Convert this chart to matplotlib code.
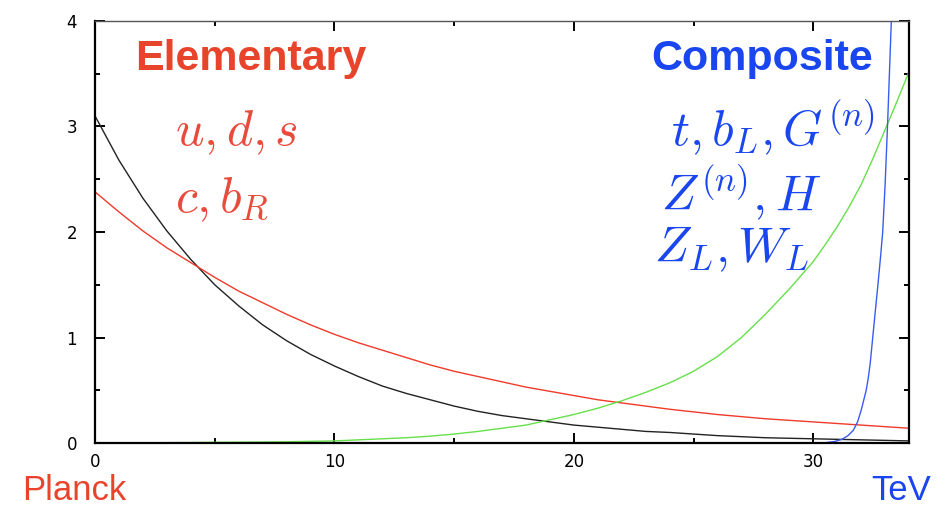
import matplotlib
matplotlib.use('Agg')
import matplotlib.pyplot as plt
from matplotlib.ticker import MultipleLocator

plt.rcParams['mathtext.fontset'] = 'cm'
plt.rcParams['font.family'] = ['Liberation Sans', 'DejaVu Sans']

# curves
x_black = [0, 1, 2, 3, 4, 5, 6, 7, 8, 9, 10, 11, 12, 13, 14, 15, 16, 17, 18, 19, 20, 21, 22,
           23, 24, 25, 26, 27, 28, 29, 30, 31, 32, 33, 34]
y_black = [3.10, 2.68, 2.32, 2.01, 1.74, 1.50, 1.30, 1.12, 0.97, 0.84, 0.73, 0.63, 0.54, 0.47,
           0.41, 0.35, 0.30, 0.26, 0.23, 0.20, 0.17, 0.15, 0.13, 0.11, 0.10, 0.085, 0.07,
           0.06, 0.05, 0.045, 0.04, 0.035, 0.03, 0.025, 0.02]

x_red = [0, 1, 2, 3, 4, 5, 6, 7, 8, 9, 10, 11, 12, 13, 14, 15, 16, 17, 18, 19, 20, 21, 22,
         23, 24, 25, 26, 27, 28, 29, 30, 31, 32, 33, 34]
y_red = [2.38, 2.19, 2.01, 1.85, 1.71, 1.57, 1.44, 1.33, 1.22, 1.12, 1.03, 0.95, 0.88, 0.81,
         0.74, 0.68, 0.63, 0.58, 0.53, 0.49, 0.45, 0.41, 0.38, 0.35, 0.32, 0.295, 0.27,
         0.25, 0.23, 0.215, 0.20, 0.185, 0.17, 0.155, 0.14]

x_green = [0, 2, 4, 6, 8, 10, 11, 12, 13, 14, 15, 16, 17, 18, 19, 20, 21, 22, 23, 24, 25, 26,
           27, 28, 28.5, 29, 29.5, 30, 30.5, 31, 31.5, 32, 32.5, 33, 33.5, 34]
y_green = [0.0, 0.002, 0.005, 0.008, 0.012, 0.02, 0.03, 0.04, 0.05, 0.065, 0.085, 0.11, 0.14,
           0.17, 0.22, 0.27, 0.33, 0.40, 0.48, 0.57, 0.68, 0.82, 1.00, 1.22, 1.34, 1.46,
           1.59, 1.72, 1.88, 2.05, 2.24, 2.45, 2.70, 2.97, 3.24, 3.52]

x_blue = [30.3, 30.6, 30.9, 31.2, 31.45, 31.67, 31.85, 32.0, 32.1, 32.21, 32.3, 32.38, 32.5,
          32.6, 32.7, 32.8, 32.9, 33.0, 33.1, 33.18, 33.26, 33.35]
y_blue = [0.0, 0.005, 0.015, 0.035, 0.07, 0.12, 0.2, 0.31, 0.4, 0.5, 0.62, 0.76, 1.04,
          1.27, 1.5, 1.74, 2.0, 2.45, 3.0, 3.5, 4.0, 4.6]

red_txt = '#e8442c'
red_math = '#e84b3c'
blue_txt = '#1a46f0'

fig = plt.figure(figsize=(9.39, 5.07), dpi=100)
ax = fig.add_axes([0.1012, 0.1262, 0.8669, 0.8324])

ax.plot(x_black, y_black, color='#222222', lw=1.0)
ax.plot(x_red, y_red, color='#f03a2a', lw=1.0)
ax.plot(x_green, y_green, color='#66e04a', lw=1.0)
ax.plot(x_blue, y_blue, color='#3a5cf0', lw=1.0)

ax.set_xlim(0, 34)
ax.set_ylim(0, 4)
ax.xaxis.set_major_locator(MultipleLocator(10))
ax.xaxis.set_minor_locator(MultipleLocator(5))
ax.yaxis.set_major_locator(MultipleLocator(1))
ax.yaxis.set_minor_locator(MultipleLocator(0.5))
ax.tick_params(which='both', direction='in', top=True, right=True, width=1.4)
ax.tick_params(which='major', length=7)
ax.tick_params(which='minor', length=3.5)
ax.tick_params(axis='x', pad=7)
ax.tick_params(axis='y', pad=13)
for lab in ax.get_xticklabels() + ax.get_yticklabels():
    lab.set_fontfamily('DejaVu Sans')
    lab.set_fontsize(12)
for s in ['left', 'bottom', 'right']:
    ax.spines[s].set_linewidth(1.6)
ax.spines['top'].set_linewidth(1.0)
ax.spines['top'].set_color('#555555')

ax.text(1.67, 3.535, 'Elementary', color=red_txt, fontsize=31, fontweight='bold', va='baseline')
ax.text(3.33, 2.825, r'$u, d, s$', color=red_math, fontsize=36, va='baseline')
ax.text(3.33, 2.19, r'$c, b_R$', color=red_math, fontsize=36, va='baseline')

ax.text(32.5, 3.535, 'Composite', color=blue_txt, fontsize=31, fontweight='bold',
        va='baseline', ha='right')
ax.text(32.58, 2.825, r'$t, b_L, G^{(n)}$', color=blue_txt, fontsize=36, va='baseline', ha='right')
ax.text(23.65, 2.21, r'$Z^{(n)}, H$', color=blue_txt, fontsize=36, va='baseline')
ax.text(23.35, 1.716, r'$Z_L, W_L$', color=blue_txt, fontsize=36, va='baseline')

fig.text(22 / 939, 7 / 507, 'Planck', color=red_txt, fontsize=25, va='baseline')
fig.text(931 / 939, 7 / 507, 'TeV', color=blue_txt, fontsize=25, va='baseline', ha='right')

fig.savefig('out.png', dpi=100)
